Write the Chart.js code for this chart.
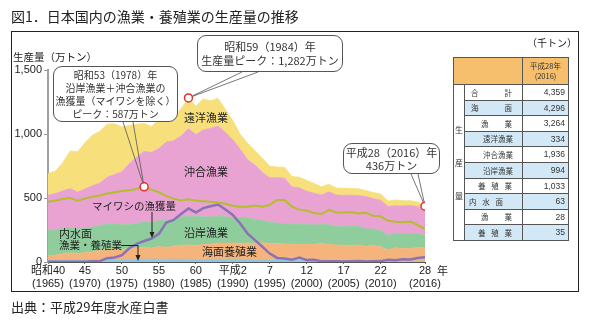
<!DOCTYPE html>
<html lang="ja"><head><meta charset="utf-8">
<script src="https://cdn.jsdelivr.net/npm/chart.js@4.4.1/dist/chart.umd.min.js"></script>
<style>
html,body{margin:0;padding:0;background:#fff}
#wrap{position:relative;width:592px;height:324px;overflow:hidden;font-family:'Noto Sans CJK JP','Liberation Sans',sans-serif;color:#222}
#c{position:absolute;left:0;top:0}
.t{position:absolute;white-space:nowrap;line-height:1}
.box{position:absolute;box-sizing:border-box;border:1px solid #555;border-radius:9px;background:#fff;text-align:center;white-space:nowrap;color:#333}
#frame{position:absolute;left:11px;top:31px;width:568px;height:261px;box-sizing:border-box;border:1.5px solid #222}
#tbl{position:absolute;left:453px;top:57px;border-collapse:collapse;table-layout:fixed;width:115px}
#tbl td{border:1px solid #555;padding:0;font-size:7.5px;color:#333;line-height:1;overflow:hidden}
#tbl td.hd{background:#f6bf6e}
#tbl td.hv{text-align:center;line-height:10px;font-size:7.5px}
#tbl td.bl{background:#d3e8f6}
#tbl td.vt{text-align:center;vertical-align:middle;line-height:33px;font-size:8px;background:#fff}
#tbl td.val{text-align:right;padding-right:3px;font-family:'Liberation Sans',sans-serif;font-size:8.5px}
#tbl .lab{display:flex;justify-content:space-between}
svg{position:absolute;left:0;top:0}
</style>
</head><body>
<div id="wrap">
<canvas id="c" width="592" height="324"></canvas>
<svg width="592" height="324">
  <g stroke="#222" stroke-width="1" fill="none">
    <line x1="152" y1="212" x2="152" y2="233"/>
    <polyline points="121,245.5 138,245.5 138,256"/>
  </g>
  <g fill="#222">
    <polygon points="149.5,232 154.5,232 152,238"/>
    <polygon points="135.5,255 140.5,255 138,261"/>
  </g>
</svg>
<div id="frame"></div>
<div class="t" style="left:11px;top:9px;font-size:14px">図1．日本国内の漁業・養殖業の生産量の推移</div>
<div class="t" style="left:13px;top:52px;font-size:10.5px">生産量（万トン）</div>
<div class="t" style="left:437px;top:265px;font-size:11px">年</div>
<div class="t" style="left:11px;top:300px;font-size:13px">出典：平成29年度水産白書</div>

<div class="t" style="left:184px;top:112px;font-size:11px">遠洋漁業</div>
<div class="t" style="left:184px;top:166px;font-size:11px">沖合漁業</div>
<div class="t" style="left:92px;top:201px;font-size:10.5px">マイワシの漁獲量</div>
<div class="t" style="left:59px;top:228px;font-size:11px">内水面</div>
<div class="t" style="left:59px;top:240px;font-size:10.5px">漁業・養殖業</div>
<div class="t" style="left:184px;top:227px;font-size:11px">沿岸漁業</div>
<div class="t" style="left:202px;top:246px;font-size:11px">海面養殖業</div>

<div class="box" style="left:53px;top:66px;width:125px;height:56px;font-size:10px;line-height:13px;padding-top:1px">昭和53（1978）年<br>沿岸漁業＋沖合漁業の<br>漁獲量（マイワシを除く）<br>ピーク：587万トン</div>
<div class="box" style="left:197px;top:35px;width:146px;height:37px;font-size:11px;line-height:14px;padding-top:3px">昭和59（1984）年<br>生産量ピーク：1,282万トン</div>
<div class="box" style="left:343px;top:143px;width:97px;height:31px;font-size:11px;line-height:13px;padding-top:2px">平成28（2016）年<br>436万トン</div>

<div class="t" style="left:527px;top:38px;font-size:10px">（千トン）</div>
<table id="tbl"></table>
</div>
<script>
const years=[1965,1966,1967,1968,1969,1970,1971,1972,1973,1974,1975,1976,1977,1978,1979,1980,1981,1982,1983,1984,1985,1986,1987,1988,1989,1990,1991,1992,1993,1994,1995,1996,1997,1998,1999,2000,2001,2002,2003,2004,2005,2006,2007,2008,2009,2010,2011,2012,2013,2014,2015,2016];
// 万トン
const inland=[12,13,14,15,16,18,19,20,21,21, 20,20,21,22,22,22,21,21,21,20, 20,20,20,21,21,21,21,20,18,17, 17,16,15,14,13,13,12,11,11,10, 10,9,9,8,8,8,7,7,6,6, 6,6];
const aquaculture=[38,41,49,56,50,55,60,70,76,83, 77,81,86,91,88,99,93,103,108,113, 109,116,119,127,127,127,126,127,128,134, 127,128,127,123,123,123,126,133,125,122, 121,118,124,115,120,111,87,104,100,99, 107,103];
const coastal=[197,196,200,196,190,189,194,195,197,193, 194,191,194,199,197,204,210,212,222,223, 227,217,212,210,205,199,197,197,187,174, 167,158,159,158,156,158,151,148,155,145, 147,150,146,134,130,129,111,113,115,112, 109,99];
const offshore=[274,285,293,306,290,308,322,331,368,387, 414,476,518,552,550,561,614,612,633,685, 640,679,694,704,660,608,536,456,425,376, 346,358,354,292,288,259,249,232,257,247, 243,245,241,255,238,235,229,215,218,225, 211,195];
const distant=[170,175,220,294,315,362,396,405,414,397, 350,298,257,219,202,226,194,191,213,241, 221,242,214,217,178,150,118,127,113,109, 92,82,86,81,83,85,75,64,60,54, 55,52,52,47,47,48,43,46,40,37, 36,33];
const sardine=[1,1,1,2,2,2,6,6,30,35, 53,107,142,164,182,220,309,329,375,418, 387,421,436,449,410,368,301,222,171,119, 66,32,28,17,35,15,18,5,5,5, 3,5,8,4,6,7,18,14,22,20, 31,38];
const coastalOffshoreExSardine=[470,480,492,500,478,495,510,520,535,545, 555,560,570,587,565,545,515,495,480,490, 480,475,470,465,455,439,432,431,441,431, 447,484,485,433,409,402,382,375,407,387, 387,390,379,385,362,357,322,314,311,317, 289,256];
const markerYears=[1978,1984,2016];
const markerValues=[587,1282,436];
const tickYears=[1965,1970,1975,1980,1985,1990,1995,2000,2005,2010,2016];
const tickEra=['昭和40','45','50','55','60','平成2','7','12','17','22','28'];
const tickWestern=['(1965)','(1970)','(1975)','(1980)','(1985)','(1990)','(1995)','(2000)','(2005)','(2010)','(2016)'];
const yTicks=[0,500,1000,1500];
const tableLabels=['合計','海面','漁業','遠洋漁業','沖合漁業','沿岸漁業','養殖業','内水面','漁業','養殖業'];
const tableValues=['4,359','4,296','3,264','334','1,936','994','1,033','63','28','35'];

// table
const labelPad=[[6,10],[6,10],[16,10],[18,10],[18,10],[18,10],[13,10],[4,19],[16,10],[13,10]];
let h='<colgroup><col style="width:11px"><col style="width:58px"><col style="width:46px"></colgroup>';
h+='<tr style="height:27px"><td colspan="2" class="hd"></td><td class="hd hv">平成28年<br>(2016)</td></tr>';
tableLabels.forEach((lab,i)=>{
  const cls=i%2===1?'bl':'';
  h+='<tr style="height:15.6px">';
  if(i===0) h+='<td rowspan="'+tableLabels.length+'" class="vt">生<br>産<br>量</td>';
  const p=labelPad[i];
  h+='<td class="'+cls+'"><div class="lab" style="padding:0 '+p[1]+'px 0 '+p[0]+'px">'+[...lab].map(c=>'<span>'+c+'</span>').join('')+'</div></td>';
  h+='<td class="'+cls+' val">'+tableValues[i]+'</td></tr>';
});
document.getElementById('tbl').innerHTML=h;

const pts=arr=>years.map((y,i)=>({x:y,y:arr[i]}));
Chart.defaults.font.family="'Liberation Sans','Noto Sans CJK JP',sans-serif";

const area=(label,arr,color,fill)=>({label,data:pts(arr),stack:'area',order:2,fill,
  backgroundColor:color,borderColor:color,borderWidth:0.8,pointRadius:0,tension:0});

const wedgePlugin={
  id:'wedges',
  afterDatasetsDraw(chart){
    const ctx=chart.ctx,xs=chart.scales.x,ys=chart.scales.y;
    const anchors=[[123,133,122],[242,258,72],[411,418,174]];
    ctx.save();ctx.strokeStyle='#555';ctx.lineWidth=0.8;
    markerYears.forEach((yr,i)=>{
      const px=xs.getPixelForValue(yr),py=ys.getPixelForValue(markerValues[i]);
      const a=anchors[i];
      ctx.beginPath();
      [[a[0],a[2]],[a[1],a[2]]].forEach(([ax,ay])=>{
        const dx=px-ax,dy=py-ay,d=Math.hypot(dx,dy),k=(d-4.5)/d;
        ctx.moveTo(ax,ay);ctx.lineTo(ax+dx*k,ay+dy*k);
      });
      ctx.stroke();
    });
    ctx.restore();
  }
};

new Chart(document.getElementById('c'),{
  type:'line',
  data:{datasets:[
    area('内水面漁業・養殖業',inland,'#8cc6e4','origin'),
    area('海面養殖業',aquaculture,'#f5b47c','-1'),
    area('沿岸漁業',coastal,'#8fcd9c','-1'),
    area('沖合漁業',offshore,'#e8a3d2','-1'),
    area('遠洋漁業',distant,'#f7e07c','-1'),
    {label:'沿岸+沖合(マイワシを除く)',data:pts(coastalOffshoreExSardine),stack:'l1',order:1,fill:false,
      borderColor:'#b3bd2e',borderWidth:2,pointRadius:0,tension:0},
    {label:'マイワシ',data:pts(sardine),stack:'l2',order:1,fill:false,
      borderColor:'#8a72b6',borderWidth:2.5,pointRadius:0,tension:0},
    {label:'marker',data:markerYears.map((y,i)=>({x:y,y:markerValues[i]})),stack:'m',order:0,showLine:false,fill:false,
      pointRadius:4,pointBorderWidth:1.5,pointBorderColor:'#e3312a',pointBackgroundColor:'#fff'}
  ]},
  options:{
    responsive:false,animation:false,devicePixelRatio:1,
    layout:{padding:{left:0,top:70,right:167,bottom:32}},
    plugins:{legend:{display:false},tooltip:{enabled:false}},
    scales:{
      x:{type:'linear',min:1965,max:2016,
        afterBuildTicks:s=>{s.ticks=tickYears.map(v=>({value:v}));},
        afterFit:s=>{s.height=30;},
        ticks:{autoSkip:false,maxRotation:0,padding:0,color:'#222',font:{size:11,lineHeight:1.2},
          callback:v=>{const i=tickYears.indexOf(v);return i<0?'':[tickEra[i],tickWestern[i]];}},
        grid:{drawOnChartArea:false,tickLength:2,color:'#666'},
        border:{color:'#555',width:1}},
      y:{stacked:true,min:0,max:1500,
        afterBuildTicks:s=>{s.ticks=yTicks.map(v=>({value:v}));},
        afterFit:s=>{s.width=48;},
        ticks:{padding:2,color:'#222',font:{size:11},callback:v=>v.toLocaleString('en-US')},
        grid:{drawOnChartArea:false,tickLength:4,color:'#999'},
        border:{color:'#a0a0a0',width:2}}
    }
  },
  plugins:[wedgePlugin]
});
</script>
</body></html>
